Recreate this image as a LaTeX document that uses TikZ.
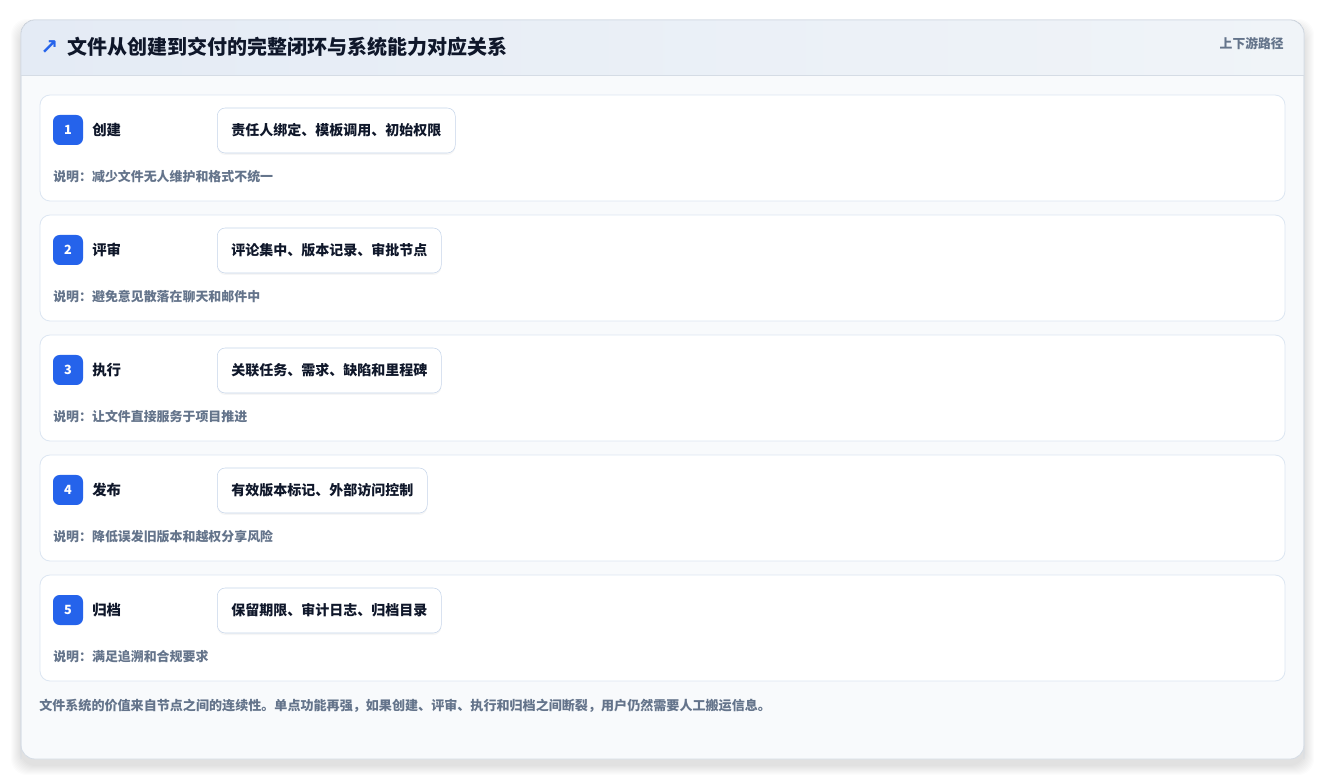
\documentclass[tikz,border=0pt]{standalone}
\usepackage{fontspec}
\setmainfont{Noto Sans CJK SC}
\newfontfamily\symfont{DejaVu Sans}
\usetikzlibrary{positioning,shadows}

\definecolor{badgeblue}{HTML}{2563EB}
\definecolor{inkdark}{HTML}{0F172A}
\definecolor{inkgray}{HTML}{64748B}
\definecolor{rowline}{HTML}{DCE6F2}
\definecolor{capline}{HTML}{C6D5EA}
\definecolor{cardbg}{HTML}{F8FAFC}
\definecolor{cardline}{HTML}{D5DCE5}
\definecolor{headleft}{HTML}{E4EBF5}
\definecolor{headright}{HTML}{F0F4F8}

\tikzset{
    badge/.style={fill=badgeblue, text=white, rounded corners=5pt, minimum size=22.5pt,
        inner sep=0pt, font=\fontsize{9.5}{11}\selectfont\bfseries},
    stepname/.style={anchor=west, inner sep=0pt, text=inkdark,
        font=\fontsize{10.8}{13}\selectfont\bfseries},
    capbox/.style={anchor=west, draw=capline, fill=white, rounded corners=6pt,
        minimum height=33.75pt, inner xsep=10.5pt, text=inkdark,
        font=\fontsize{10.5}{12}\selectfont\bfseries,
        drop shadow={opacity=0.07, shadow xshift=0pt, shadow yshift=-1.5pt}},
    notetext/.style={anchor=west, inner sep=0pt, text=inkgray,
        font=\fontsize{9.7}{12}\selectfont\bfseries},
    rowbox/.style={draw=rowline, fill=white, rounded corners=7.5pt, line width=0.6pt}
}

\begin{document}
\begin{tikzpicture}[x=0.75pt, y=-0.75pt]
    %%Background
    \fill[white] (0,0) rectangle (1325,780);
    \useasboundingbox (0,0) rectangle (1325,780);
    %%Card shadow
    \foreach \s in {1,...,10}
        \fill[black, opacity=0.011, rounded corners=12pt]
            (21-\s,20-\s+9) rectangle (1304+\s,759+\s+6);
    %%Card
    \filldraw[fill=cardbg, draw=cardline, rounded corners=10.5pt, line width=0.6pt]
        (21,20) rectangle (1304,759);
    \begin{scope}
        \clip[rounded corners=10.5pt] (21,20) rectangle (1304,759);
        \fill[left color=headleft, right color=headright] (21,20) rectangle (1304,75);
    \end{scope}
    \draw[cardline, line width=0.6pt] (21,75) -- (1304,75);
    \draw[cardline, line width=0.6pt, rounded corners=10.5pt] (21,759) -- (21,20) -- (1304,20) -- (1304,759);

    %%Header
    \node[anchor=west, inner sep=0pt, text=badgeblue, font=\symfont\fontsize{16}{18}\selectfont\bfseries]
        (icon) at (40,47.5) {↗};
    \node[anchor=west, inner sep=0pt, text=inkdark, font=\fontsize{15}{18}\selectfont\bfseries]
        (title) at (67,47) {文件从创建到交付的完整闭环与系统能力对应关系};
    \node[anchor=east, inner sep=0pt, text=inkgray, font=\fontsize{9.6}{12}\selectfont\bfseries]
        (path) at (1284,44) {上下游路径};

    %%Steps
    \foreach \i/\name/\cap/\note in {
        1/创建/责任人绑定、模板调用、初始权限/减少文件无人维护和格式不统一,
        2/评审/评论集中、版本记录、审批节点/避免意见散落在聊天和邮件中,
        3/执行/关联任务、需求、缺陷和里程碑/让文件直接服务于项目推进,
        4/发布/有效版本标记、外部访问控制/降低误发旧版本和越权分享风险,
        5/归档/保留期限、审计日志、归档目录/满足追溯和合规要求}
    {
        \pgfmathsetmacro{\yy}{95+(\i-1)*120}
        \draw[rowbox] (40,\yy) rectangle (1285,\yy+106);
        \node[badge] (num\i) at (68,\yy+35) {\i};
        \node[stepname] (name\i) at (92,\yy+35) {\name};
        \node[capbox] (cap\i) at (217,\yy+35.5) {\cap};
        \node[notetext] (note\i) at (53,\yy+82) {说明：\note};
    }

    %%Footer
    \node[anchor=west, inner sep=0pt, text=inkgray, font=\fontsize{9.8}{12}\selectfont\bfseries]
        (footer) at (39,705.5) {文件系统的价值来自节点之间的连续性。单点功能再强，如果创建、评审、执行和归档之间断裂，用户仍然需要人工搬运信息。};
\end{tikzpicture}
\end{document}
